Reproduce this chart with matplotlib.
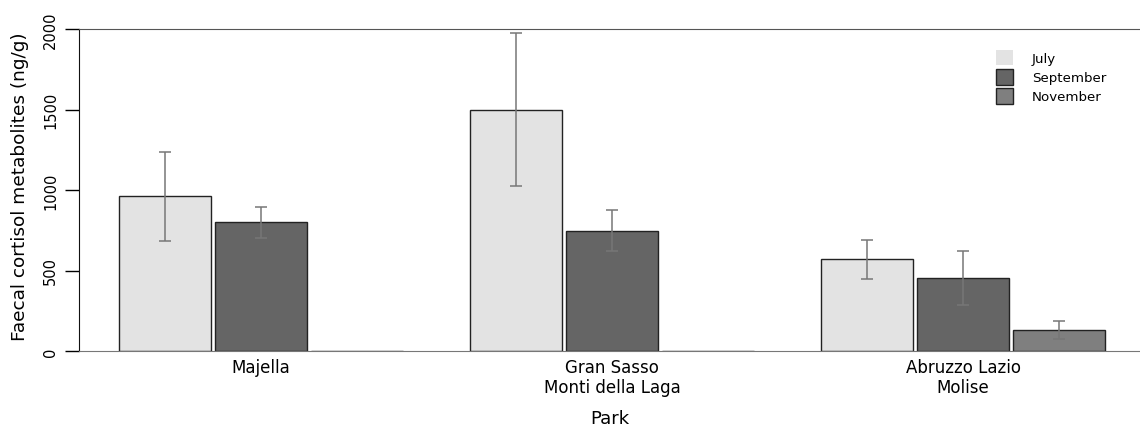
import numpy as np
import matplotlib.pyplot as plt
from matplotlib.patches import Patch

# Datos
parks = ['Majella', 'Gran Sasso\nMonti della Laga', 'Abruzzo Lazio\nMolise']
months = ['July', 'September', 'November']
july = [960, 1500, 570]
july_err = [278, 475, 120]
september = [800, 747, 455]
september_err = [97, 127, 168]
november = [0, 0, 130]
november_err = [0, 0, 54]

colors = ['#e3e3e3', '#656565', '#7f7f7f']
values = [july, september, november]
errors = [july_err, september_err, november_err]

fig = plt.figure(figsize=(11.4, 4.31), dpi=100)
ax = fig.add_axes([79 / 1140, 1 - 352 / 431, 1 - 79 / 1140, (352 - 30) / 431])

x = np.arange(len(parks))
slot = 96 / 351
for i in range(3):
    pos = x + (i - 1) * slot
    ax.bar(pos, values[i], width=slot * 0.96, color=colors[i],
           edgecolor='#222222', linewidth=1.0, zorder=2)
    has = np.array(values[i]) > 0
    ax.errorbar(pos[has], np.array(values[i])[has], yerr=np.array(errors[i])[has],
                fmt='none', ecolor='#777777', elinewidth=1.1, capsize=4,
                capthick=1.1, zorder=3)

ax.set_xlim(-0.519, 2.504)
ax.set_ylim(0, 2000)
ax.set_yticks([0, 500, 1000, 1500, 2000])
ax.set_yticklabels(['0', '500', '1000', '1500', '2000'], rotation=90, va='center', fontsize=10.5)
ax.tick_params(axis='y', length=10, width=1, pad=5)
ax.set_xticks(x)
ax.set_xticklabels(parks, fontsize=12, linespacing=1.15)
ax.tick_params(axis='x', length=0, pad=5)

ax.spines['right'].set_visible(False)
ax.spines['left'].set_color('#111111')
ax.spines['top'].set_color('#555555')
ax.spines['bottom'].set_color('#777777')

ax.set_ylabel('Faecal cortisol metabolites (ng/g)', fontsize=13.3)
ax.yaxis.set_label_coords(-0.047, 0.512)
ax.set_xlabel('Park', fontsize=13, labelpad=9.5)

handles = [Patch(facecolor=colors[0], edgecolor='none'),
           Patch(facecolor=colors[1], edgecolor='#222222'),
           Patch(facecolor=colors[2], edgecolor='#222222')]
ax.legend(handles, months, loc='upper left', bbox_to_anchor=(0.853, 0.972),
          frameon=False, fontsize=9.6, handlelength=1.3, handleheight=1.4,
          handletextpad=1.4, labelspacing=0.28)

fig.savefig('out.png', dpi=100)
